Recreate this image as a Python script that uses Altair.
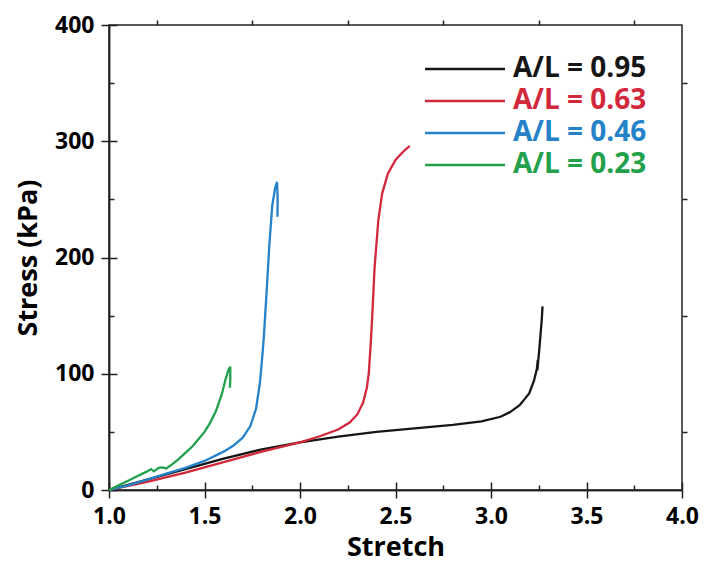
import altair as alt
import pandas as pd

# ---- data ----
series_names = ["A/L = 0.95", "A/L = 0.63", "A/L = 0.46", "A/L = 0.23"]
series_colors = ["#161616", "#d2283c", "#2582c8", "#22a04c"]

x_095 = [1.0, 1.2, 1.4, 1.6, 1.8, 2.0, 2.2, 2.4, 2.6, 2.8, 2.95, 3.05, 3.1, 3.15, 3.2, 3.225, 3.24, 3.245, 3.243, 3.255, 3.265, 3.27]
y_095 = [0, 9, 18, 27, 35, 41, 46, 50, 53, 56, 59, 63, 67, 73, 83, 94, 104, 112, 103, 125, 145, 158]

x_063 = [1.0, 1.2, 1.4, 1.6, 1.8, 2.0, 2.1, 2.2, 2.26, 2.3, 2.33, 2.35, 2.36, 2.37, 2.38, 2.39, 2.41, 2.43, 2.46, 2.5, 2.54, 2.575]
y_063 = [0, 7, 15, 24, 33, 41, 46, 52, 58, 65, 75, 88, 100, 125, 155, 190, 232, 255, 272, 284, 291, 296]

x_046 = [1.0, 1.1, 1.2, 1.3, 1.4, 1.5, 1.6, 1.65, 1.7, 1.74, 1.77, 1.79, 1.80, 1.81, 1.825, 1.84, 1.855, 1.87, 1.88, 1.883, 1.882]
y_046 = [0, 4, 9, 14, 19, 25, 33, 38, 45, 55, 70, 92, 110, 130, 170, 212, 245, 260, 265, 250, 235]

x_023 = [1.0, 1.05, 1.1, 1.15, 1.2, 1.22, 1.235, 1.26, 1.28, 1.3, 1.33, 1.36, 1.4, 1.44, 1.47, 1.5, 1.53, 1.56, 1.59, 1.61, 1.625, 1.635, 1.635, 1.633]
y_023 = [0, 4, 8, 12, 16, 18, 16, 19, 19.5, 18.5, 22, 26, 32, 38, 44, 50, 58, 68, 82, 95, 103, 106, 95, 88]

x_major = [1.0, 1.5, 2.0, 2.5, 3.0, 3.5, 4.0]
x_minor = [1.25, 1.75, 2.25, 2.75, 3.25, 3.75]
y_major = [0, 100, 200, 300, 400]
y_minor = [50, 150, 250, 350]

rows = []
for name, xs, ys in zip(series_names, [x_095, x_063, x_046, x_023], [y_095, y_063, y_046, y_023]):
    for i, (a, b) in enumerate(zip(xs, ys)):
        rows.append({"series": name, "stretch": a, "stress": b, "idx": i})
df = pd.DataFrame(rows)

W, H = 573, 465
FONT = "Open Sans"

xscale = alt.Scale(domain=[1.0, 4.0], nice=False, zero=False)
yscale = alt.Scale(domain=[0, 400], nice=False)

label_color_expr = " : ".join(
    f"datum.value === '{n}' ? '{c}'" for n, c in zip(series_names, series_colors)
) + " : 'black'"

base = alt.Chart(df)

main = base.mark_line(strokeWidth=2.3).encode(
    x=alt.X("stretch:Q", scale=xscale,
            axis=alt.Axis(values=x_major, format=".1f", title="Stretch", tickSize=8,
                          labelPadding=7, titlePadding=6, labelFlush=False)),
    y=alt.Y("stress:Q", scale=yscale,
            axis=alt.Axis(values=y_major, title="Stress (kPa)", tickSize=8,
                          labelPadding=7, titlePadding=12, labelFlush=False)),
    color=alt.Color("series:N", sort=series_names,
                    scale=alt.Scale(domain=series_names, range=series_colors),
                    legend=alt.Legend(title=None, orient="none", legendX=342, legendY=30,
                                      symbolType="M-4,0H4", symbolSize=400,
                                      symbolStrokeWidth=2.3, labelOffset=34,
                                      labelFontSize=28, labelFont=FONT, labelFontWeight="bold",
                                      labelColor={"expr": label_color_expr},
                                      rowPadding=4, padding=0, labelLimit=300)),
    order="idx:Q",
)

def ghost(xaxis, yaxis):
    return base.mark_line(strokeOpacity=0).encode(
        x=alt.X("stretch:Q", scale=xscale, axis=xaxis),
        y=alt.Y("stress:Q", scale=yscale, axis=yaxis),
        detail="series:N",
        order="idx:Q",
    )

minor = ghost(
    alt.Axis(values=x_minor, labels=False, title=None, tickSize=5, domain=False),
    alt.Axis(values=y_minor, labels=False, title=None, tickSize=5, domain=False),
)
mirror = ghost(
    alt.Axis(values=x_major, labels=False, title=None, tickSize=8, offset=-H),
    alt.Axis(values=y_major, labels=False, title=None, tickSize=8, offset=-W),
)
mirror_minor = ghost(
    alt.Axis(values=x_minor, labels=False, title=None, tickSize=5, domain=False, offset=-H),
    alt.Axis(values=y_minor, labels=False, title=None, tickSize=5, domain=False, offset=-W),
)

chart = alt.layer(main, minor, mirror, mirror_minor).resolve_axis(
    x="independent", y="independent"
).properties(
    width=W, height=H,
    autosize=alt.AutoSizeParams(type="none"),
    padding={"left": 101, "top": 17, "right": 17, "bottom": 73},
    background="white",
).configure_view(stroke="#222", strokeWidth=1.5).configure_axis(
    grid=False,
    domainColor="#222", domainWidth=1.5,
    tickColor="#222", tickWidth=1.5,
    labelFont=FONT, labelFontSize=23, labelFontWeight="bold", labelColor="black",
    titleFont=FONT, titleFontSize=27, titleFontWeight="bold", titleColor="black",
)

chart.save("out.html", embed_options={"renderer": "svg", "actions": False})
